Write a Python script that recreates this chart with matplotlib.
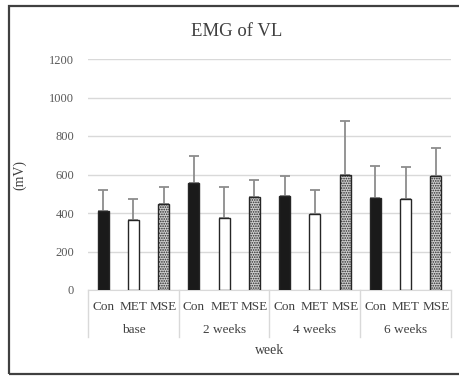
import matplotlib
matplotlib.use("Agg")
import matplotlib.pyplot as plt
from matplotlib.patches import Rectangle
from matplotlib.lines import Line2D
import matplotlib.transforms as mtransforms

plt.rcParams['font.family'] = ['Liberation Serif', 'DejaVu Serif']
plt.rcParams['hatch.linewidth'] = 0.8

groups = ["base", "2 weeks", "4 weeks", "6 weeks"]
series = ["Con", "MET", "MSE"]
con = [410, 554, 488, 476]
met = [364, 372, 395, 473]
mse = [447, 485, 597, 592]
con_err = [109, 144, 104, 168]
met_err = [110, 165, 124, 164]
mse_err = [90, 86, 280, 144]
yticks = [0, 200, 400, 600, 800, 1000, 1200]

W, H = 460, 376
fig = plt.figure(figsize=(W / 100, H / 100), dpi=100)
ax = fig.add_axes([88 / W, 1 - 290 / H, (451 - 88) / W, (290 - 59) / H])

vals = [con, met, mse]
errs = [con_err, met_err, mse_err]
faces = ["#1a1a1a", "white", "#d0d0d0"]
hatches = [None, None, "......."]
bw = 0.36
for j in range(3):
    xs = [i * 3 + j for i in range(len(groups))]
    ax.bar(xs, vals[j], width=bw, color=faces[j], edgecolor="#262626",
           linewidth=1.0, hatch=hatches[j], zorder=3)
    ax.errorbar(xs, vals[j], yerr=[[0] * len(xs), errs[j]], fmt="none",
                ecolor="#8c8c8c", elinewidth=1.3, capsize=3.5, capthick=1.3, zorder=2)

ax.set_xlim(-0.5, 11.5)
ax.set_ylim(0, 1200)
ax.set_yticks(yticks)
ax.tick_params(axis="y", length=0, labelsize=9, colors="#595959", pad=10)
ax.yaxis.grid(True, color="#d9d9d9", linewidth=1.0)
ax.set_axisbelow(True)
for s in ["top", "right", "left"]:
    ax.spines[s].set_visible(False)
ax.spines["bottom"].set_color("#d9d9d9")

xt = [i * 3 + j for i in range(len(groups)) for j in range(3)]
ax.set_xticks(xt)
ax.set_xticklabels(series * len(groups))
ax.tick_params(axis="x", length=0, labelsize=9.5, colors="#404040", pad=8)

trans = mtransforms.blended_transform_factory(ax.transData, ax.transAxes)
for k in range(len(groups) + 1):
    x = k * 3 - 0.5
    ax.add_line(Line2D([x, x], [0, -47 / 231], transform=trans, color="#d9d9d9",
                       linewidth=1.0, clip_on=False))
for i, g in enumerate(groups):
    ax.text(i * 3 + 1, -40 / 231, g, transform=trans, ha="center", va="center",
            fontsize=9.5, color="#404040")

fig.text(270 / W, 1 - 350 / H, "week", ha="center", va="center", fontsize=10, color="#404040")
fig.text(20 / W, 1 - 175 / H, "(mV)", ha="center", va="center", rotation=90,
         fontsize=10, color="#404040")
fig.text(237 / W, 1 - 32 / H, "EMG of VL", ha="center", va="center", fontsize=13.5, color="#404040")

fig.add_artist(Rectangle((8.5 / W, 1 - 374 / H), (520 - 8.5) / W, (374 - 5.5) / H,
                         transform=fig.transFigure, fill=False, edgecolor="#404040",
                         linewidth=1.6))

fig.savefig("out.png", dpi=100)
